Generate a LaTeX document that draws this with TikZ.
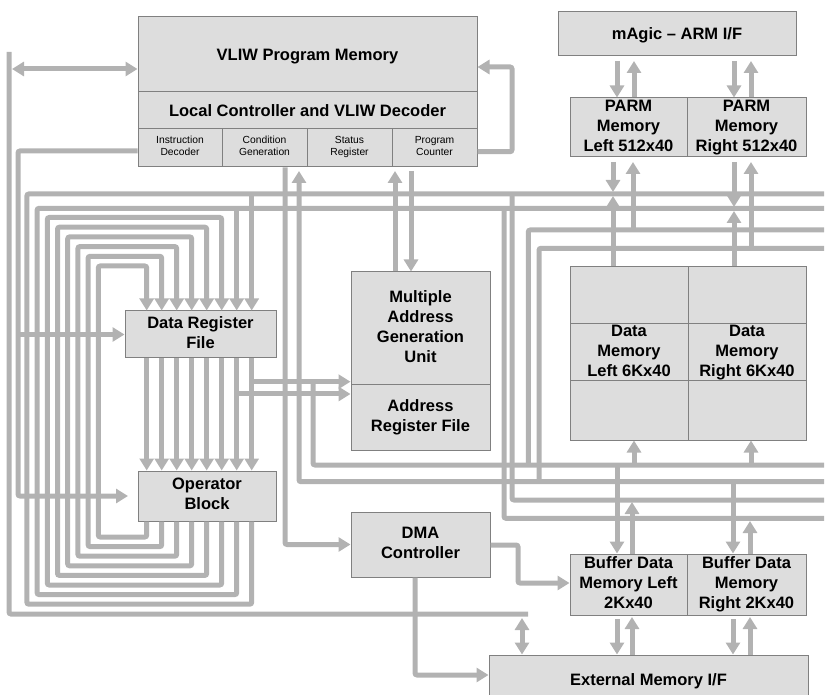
\documentclass[tikz,border=0pt]{standalone}
\usepackage{fontspec}
\setmainfont{Liberation Sans}
\usetikzlibrary{arrows.meta}
\definecolor{busgray}{RGB}{178,178,178}
\definecolor{boxfill}{RGB}{221,221,221}
\definecolor{boxline}{RGB}{128,128,128}

\begin{document}
\begin{tikzpicture}[x=1pt,y=-1pt,
    bus/.style={draw=busgray,line width=5pt,rounded corners=2pt},
    arr/.style={bus,-{Triangle[length=12pt,width=14pt]}},
    darr/.style={bus,{Triangle[length=12pt,width=14pt]}-{Triangle[length=12pt,width=14pt]}},
    blk/.style={draw=boxline,fill=boxfill,line width=1pt,inner sep=0pt,align=center,
        font=\bfseries\fontsize{16.5}{20}\selectfont,
        execute at begin node=\rule{0pt}{15.8pt},
        execute at end node=\rule[-4pt]{0pt}{4pt}},
    cell/.style={blk,font=\fontsize{10.3}{12.3}\selectfont,minimum width=85pt,minimum height=38pt,
        execute at begin node=\rule{0pt}{10pt},
        execute at end node=\rule[-2.6pt]{0pt}{2.6pt}}]
    \useasboundingbox (0,0) rectangle (831,695);
    % blocks
    \node[blk,minimum width=339pt,minimum height=75pt] (pm) at (307.5,54.5) {VLIW Program Memory};
    \node[blk,minimum width=339pt,minimum height=37pt] (lc) at (307.5,110.5) {Local Controller and VLIW Decoder};
    \node[cell,minimum width=84pt] (id) at (180,148) {Instruction\\Decoder};
    \node[cell] (cg) at (264.5,148) {Condition\\Generation};
    \node[cell] (sr) at (349.5,148) {Status\\Register};
    \node[cell] (pc) at (434.5,148) {Program\\Counter};
    \node[blk,minimum width=238pt,minimum height=44pt] (arm) at (677,34) {mAgic -- ARM I/F};
    \node[blk,minimum width=117pt,minimum height=59pt] (parml) at (628.5,127.5) {PARM\\Memory\\Left 512x40};
    \node[blk,minimum width=119pt,minimum height=59pt] (parmr) at (746.5,127.5) {PARM\\Memory\\Right 512x40};
    \node[blk,minimum width=151pt,minimum height=47pt] (drf) at (200.5,334.5) {Data Register\\File};
    \node[blk,minimum width=138pt,minimum height=50pt] (op) at (207,496) {Operator\\Block};
    \node[blk,minimum width=139pt,minimum height=113pt] (magu) at (420.5,328.5) {Multiple\\Address\\Generation\\Unit};
    \node[blk,minimum width=139pt,minimum height=65pt] (arf) at (420.5,417.5) {Address\\Register File};
    \node[blk,minimum width=139pt,minimum height=65pt] (dma) at (420.5,544.5) {DMA\\Controller};
    \node[blk,minimum width=118pt,minimum height=57pt] (dmlm) at (629,352.5) {Data\\Memory\\Left 6Kx40};
    \node[blk,minimum width=118pt,minimum height=57pt] (dmrm) at (747,352.5) {Data\\Memory\\Right 6Kx40};
    \node[blk,minimum width=118pt,minimum height=57pt] (dmlt) at (629,295.5) {};
    \node[blk,minimum width=118pt,minimum height=59pt] (dmlb) at (629,410.5) {};
    \node[blk,minimum width=118pt,minimum height=57pt] (dmrt) at (747,295.5) {};
    \node[blk,minimum width=118pt,minimum height=59pt] (dmrb) at (747,410.5) {};
    \node[blk,minimum width=117pt,minimum height=61pt] (bufl) at (628.5,584.5) {Buffer Data\\Memory Left\\2Kx40};
    \node[blk,minimum width=119pt,minimum height=61pt] (bufr) at (746.5,584.5) {Buffer Data\\Memory\\Right 2Kx40};
    \node[blk,minimum width=319pt,minimum height=50pt] (ext) at (648.5,680) {External Memory I/F};

    % left side
    \draw[bus] (9,52) -- (9,614) -- (528,614);
    \draw[darr] (12,69) -- (pm.west |- 0,69);
    \draw[darr] (522,618) -- (522,0 |- ext.north);
    \draw[arr] (id.west |- 0,151) -| (18,0 |- op.west) -- (128,496);
    \draw[arr] (18,0 |- drf.west) -- (drf.west);
    \draw[arr] (pc.east |- 0,151.7) -| (512,67) -- (pm.east |- 0,67);

    % register file loops
    \foreach \i in {0,...,5}{
        \pgfmathsetmacro\xa{146.7+15*\i}
        \pgfmathsetmacro\yb{537+9.6*\i}
        \pgfmathsetmacro\xl{98.3-10.2*\i}
        \pgfmathsetmacro\yt{266-9.7*\i}
        \draw[arr] (\xa,0 |- op.south) -- (\xa,\yb) -- (\xl,\yb) -- (\xl,\yt) -- (\xa,\yt) -- (\xa,0 |- drf.north);
    }
    \draw[bus] (236.7,0 |- op.south) -- (236.7,594.6) -- (37.1,594.6) -- (37.1,208.3) -- (824,208.3);
    \draw[bus] (251.7,0 |- op.south) -- (251.7,604.2) -- (26.9,604.2) -- (26.9,194) -- (824,194);
    \draw[arr] (236.7,208.3) -- (236.7,0 |- drf.north);
    \draw[arr] (251.7,194) -- (251.7,0 |- drf.north);
    \foreach \i in {0,...,7}{
        \pgfmathsetmacro\xa{146.7+15*\i}
        \draw[arr] (\xa,0 |- drf.south) -- (\xa,0 |- op.north);
    }
    \draw[arr] (251.7,381.7) -- (magu.west |- 0,381.7);
    \draw[arr] (236.7,394) -- (arf.west |- 0,394);
    \draw[bus] (313,381.7) -- (313,465) -- (824,465);

    % controller and address unit
    \draw[arr] (285,0 |- cg.south) |- (dma.west);
    \draw[arr] (824,481.7) -| (299,171);
    \draw[arr] (395,0 |- magu.north) -- (395,171);
    \draw[arr] (411,171) -- (411,0 |- magu.north);

    % right buses
    \draw[bus] (512,194) -- (512,500) -- (824,500);
    \draw[bus] (504,208.3) -- (504,518.3) -- (824,518.3);
    \draw[bus] (824,230) -- (528.3,230) -- (528.3,465);
    \draw[bus] (824,248.3) -- (539,248.3) -- (539,481.7);

    % memories
    \draw[arr] (617,61) -- (617,0 |- parml.north);
    \draw[arr] (634,0 |- parml.north) -- (634,61);
    \draw[arr] (734,61) -- (734,0 |- parmr.north);
    \draw[arr] (751,0 |- parmr.north) -- (751,61);
    \draw[arr] (613,162) -- (613,192);
    \draw[arr] (613,0 |- dmlt.north) -- (613,196);
    \draw[arr] (633,230) -- (633,162);
    \draw[arr] (734,162) -- (734,207);
    \draw[arr] (734,0 |- dmrt.north) -- (734,211);
    \draw[arr] (751,248.3) -- (751,162);
    \draw[arr] (634,465) -- (634,0 |- dmlb.south);
    \draw[arr] (751,465) -- (751,0 |- dmrb.south);
    \draw[arr] (617,465) -- (617,0 |- bufl.north);
    \draw[arr] (632,0 |- bufl.north) -- (632,502);
    \draw[arr] (733,481.7) -- (733,0 |- bufr.north);
    \draw[arr] (750,0 |- bufr.north) -- (750,521);
    \draw[arr] (617,619) -- (617,0 |- ext.north);
    \draw[arr] (632,0 |- ext.north) -- (632,617);
    \draw[arr] (733,619) -- (733,0 |- ext.north);
    \draw[arr] (750,0 |- ext.north) -- (750,617);

    % DMA
    \draw[arr] (dma.east |- 0,545) -- (518,545) |- (bufl.west |- 0,583);
    \draw[arr] (415,0 |- dma.south) |- (ext.west |- 0,675);
\end{tikzpicture}
\end{document}
